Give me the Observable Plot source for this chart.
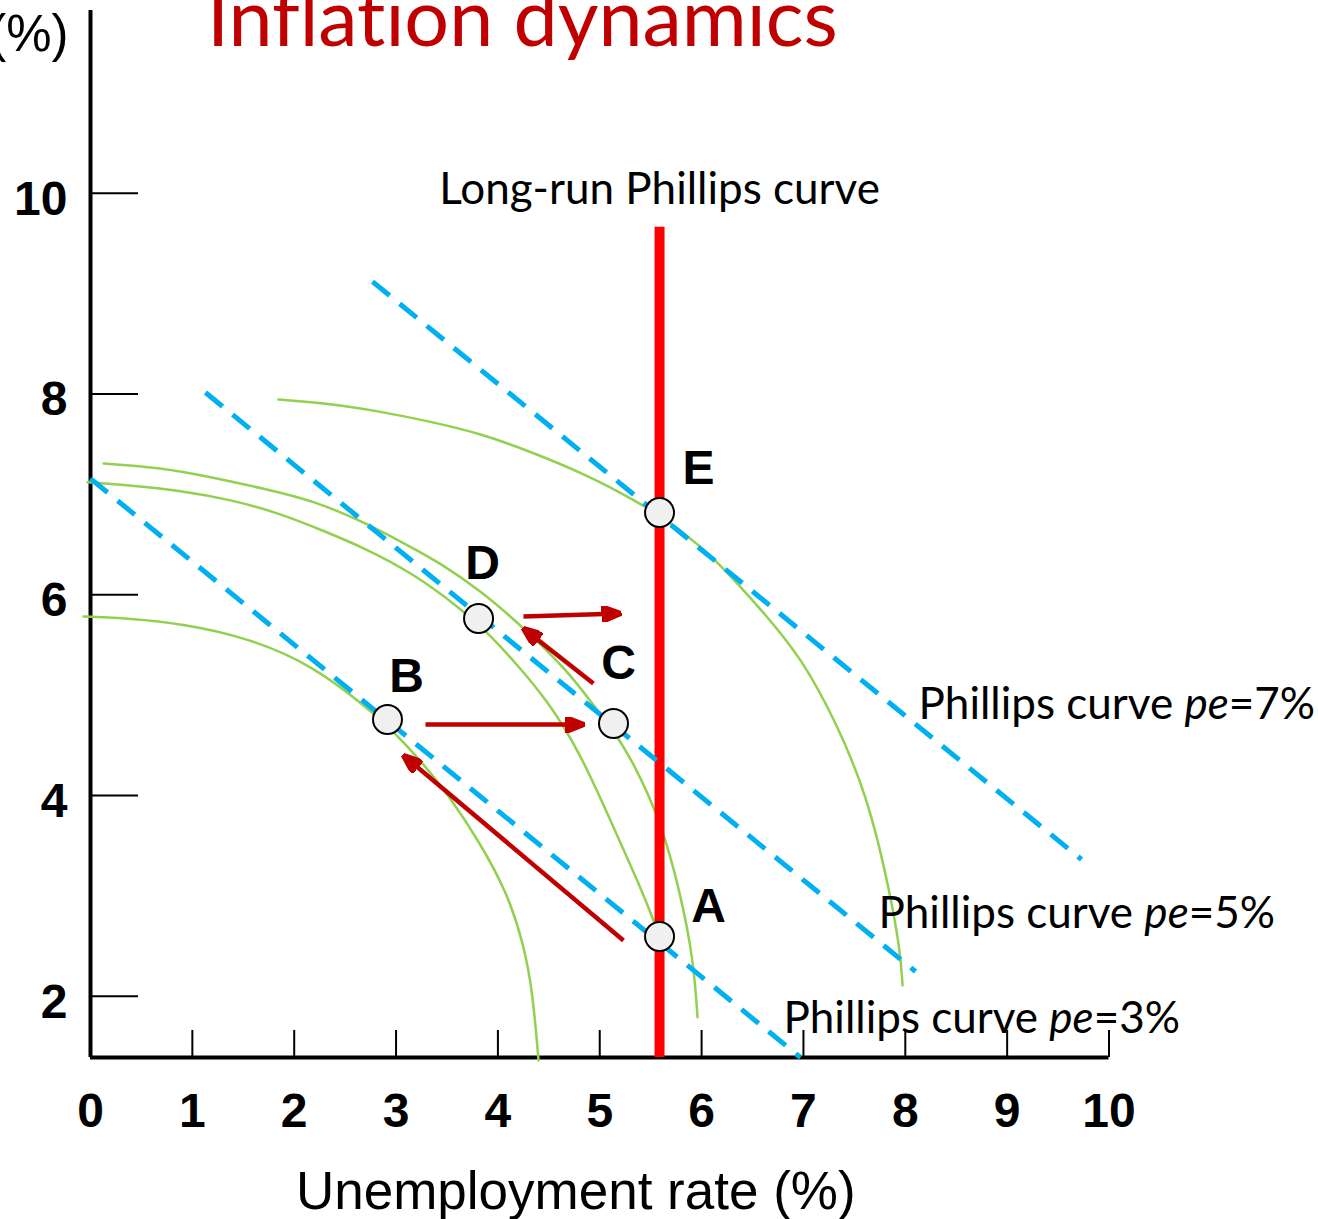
<!DOCTYPE html>
<html>
<head>
<meta charset="utf-8">
<script src="https://cdn.jsdelivr.net/npm/d3@7"></script>
<script src="https://cdn.jsdelivr.net/npm/@observablehq/plot@0.6"></script>
<style>
  html, body { margin: 0; padding: 0; background: #fff; }
  #chart svg { display: block; }
  #chart text { font-variant-ligatures: none; font-feature-settings: "liga" 0, "clig" 0; }
</style>
</head>
<body>
<div id="chart"></div>
<script>
// ---------- data ----------
const xTicks = [0, 1, 2, 3, 4, 5, 6, 7, 8, 9, 10];
const yTicks = [2, 4, 6, 8, 10];
const xDomain = [0, 10];
const yDomain = [1.39, 11.82];

// long-run Phillips curve (natural rate of unemployment)
const lrpcX = 5.587;
const lrpcTop = 9.66;

// short-run Phillips curves (dashed straight lines), one per expected inflation
const peNames = ["3%", "5%", "7%"];
const peX1 = [0.0, 1.129, 2.769];
const peY1 = [7.157, 8.014, 9.119];
const peX2 = [6.971, 8.10, 9.730];
const peY2 = [1.39, 2.247, 3.363];
const peLabelX = [6.804, 7.737, 8.130];
const peLabelY = [1.639, 2.685, 4.767];

// green curved paths
const curveB = [[-0.069, 5.783], [0.393, 5.763], [0.884, 5.713], [1.541, 5.574], [2.189, 5.295], [2.749, 4.847], [2.975, 4.638], [3.240, 4.349], [3.505, 4.020], [3.829, 3.522], [4.094, 3.024], [4.251, 2.526], [4.340, 2.058], [4.399, 1.361]];
const curveD = [[-0.029, 7.120], [0.393, 7.090], [0.884, 7.038], [1.375, 6.948], [1.866, 6.809], [2.288, 6.636], [2.680, 6.470], [3.171, 6.211], [3.633, 5.863], [3.898, 5.624], [4.153, 5.345], [4.487, 4.948], [4.811, 4.420], [5.135, 3.683], [5.400, 3.085], [5.528, 2.757], [5.587, 2.596]];
const curveC = [[0.128, 7.307], [0.687, 7.267], [1.208, 7.167], [1.699, 7.057], [2.189, 6.938], [2.720, 6.709], [3.171, 6.460], [3.407, 6.331], [3.829, 6.042], [4.251, 5.673], [4.683, 5.245], [4.939, 4.896], [5.135, 4.647], [5.331, 4.329], [5.597, 3.752], [5.793, 3.025], [5.921, 2.358], [5.960, 1.791]];
const curveE = [[1.846, 7.944], [2.356, 7.904], [2.847, 7.825], [3.338, 7.725], [3.829, 7.606], [4.320, 7.426], [4.840, 7.207], [5.204, 7.018], [5.587, 6.799], [5.990, 6.490], [6.313, 6.161], [6.676, 5.743], [6.971, 5.375], [7.295, 4.787], [7.629, 4.001], [7.855, 3.015], [7.953, 2.428], [7.973, 2.109]];

// labelled equilibrium points
const pointNames = ["A", "B", "C", "D", "E"];
const pointX = [5.587, 2.916, 5.135, 3.810, 5.587];
const pointY = [2.596, 4.757, 4.717, 5.763, 6.819];
const letterX = [6.068, 3.103, 5.184, 3.849, 5.970];
const letterY = [2.895, 5.185, 5.315, 6.311, 7.257];

// red movement arrows
const arrowX1 = [5.233, 3.289, 4.938, 4.251];
const arrowY1 = [2.556, 4.707, 5.116, 5.783];
const arrowX2 = [3.073, 4.841, 4.251, 5.204];
const arrowY2 = [4.399, 4.707, 5.664, 5.813];

const titleText = "Inflation dynamics";
const yLabelText = "(%)";
const xLabelText = "Unemployment rate (%)";
const lrpcText = "Long-run Phillips curve";
const titlePos = [4.24, 11.47];
const lrpcLabelY = 9.896;

// ---------- derived tables ----------
const phillips = peNames.map((pe, i) => ({pe, x1: peX1[i], y1: peY1[i], x2: peX2[i], y2: peY2[i], lx: peLabelX[i], ly: peLabelY[i], label: `Phillips curve pe=${pe}`}));
const curves = [["B", curveB], ["D", curveD], ["C", curveC], ["E", curveE]]
  .flatMap(([id, pts]) => pts.map(([x, y]) => ({id, x, y})));
const points = pointNames.map((name, i) => ({name, x: pointX[i], y: pointY[i], lx: letterX[i], ly: letterY[i]}));
const arrows = arrowX1.map((_, i) => ({x1: arrowX1[i], y1: arrowY1[i], x2: arrowX2[i], y2: arrowY2[i]}));

const SANS = "'Liberation Sans', Arial, sans-serif";
const CAL = "Lato, 'Open Sans', sans-serif";

function headMarker(color, context) {
  const doc = (context && context.document) || document;
  const ns = "http://www.w3.org/2000/svg";
  const m = doc.createElementNS(ns, "marker");
  m.setAttribute("viewBox", "-19 -8 20 16");
  m.setAttribute("markerWidth", 20);
  m.setAttribute("markerHeight", 16);
  m.setAttribute("markerUnits", "userSpaceOnUse");
  m.setAttribute("orient", "auto");
  const p = doc.createElementNS(ns, "path");
  p.setAttribute("d", "M1,0L-18,-7.5L-18,7.5Z");
  p.setAttribute("fill", color);
  m.appendChild(p);
  return m;
}

function build(marker) {
  return Plot.plot({
    width: 1318,
    height: 1219,
    marginLeft: 90,
    marginRight: 209.5,
    marginTop: 10,
    marginBottom: 162,
    x: {domain: xDomain},
    y: {domain: yDomain},
    style: {background: "white", overflow: "visible", color: "black"},
    marks: [
      // axes
      Plot.axisX(xTicks, {tickSize: -27, tickFormat: () => "", strokeWidth: 2, label: null}),
      Plot.axisX(xTicks, {tickSize: 0, tickPadding: 35, tickFormat: d => String(d), fontSize: 48, fontWeight: "bold", fontFamily: SANS, label: null}),
      Plot.axisY(yTicks, {tickSize: -48, tickFormat: () => "", strokeWidth: 2, label: null}),
      Plot.axisY(yTicks, {tickSize: 0, tickPadding: 23, dy: 6, tickFormat: d => String(d), fontSize: 48, fontWeight: "bold", fontFamily: SANS, label: null}),
      Plot.ruleX([xDomain[0]], {strokeWidth: 4}),
      Plot.ruleY([yDomain[0]], {strokeWidth: 4}),
      // curved paths
      Plot.line(curves, {x: "x", y: "y", z: "id", stroke: "#92D050", strokeWidth: 2.5, curve: "basis"}),
      // long-run Phillips curve
      Plot.ruleX([lrpcX], {y1: yDomain[0], y2: lrpcTop, stroke: "#FF0000", strokeWidth: 10}),
      // short-run Phillips curves
      Plot.link(phillips, {x1: "x1", y1: "y1", x2: "x2", y2: "y2", stroke: "#00B0F0", strokeWidth: 5, strokeDasharray: "22,13"}),
      // arrows
      Plot.link(arrows, {x1: "x1", y1: "y1", x2: "x2", y2: "y2", stroke: "#C00000", strokeWidth: 4.5, markerEnd: marker}),
      // points
      Plot.dot(points, {x: "x", y: "y", r: 14.5, fill: "#F0F0F0", stroke: "black", strokeWidth: 2}),
      Plot.text(points, {x: "lx", y: "ly", text: "name", fontSize: 48, fontWeight: "bold", fontFamily: SANS, fill: "black"}),
      // labels
      Plot.text(phillips, {x: "lx", y: "ly", text: "label", textAnchor: "start", lineAnchor: "bottom", fontSize: 44, fontFamily: CAL, fill: "black"}),
      Plot.text([lrpcText], {x: lrpcX, y: lrpcLabelY, text: d => d, textAnchor: "middle", lineAnchor: "bottom", fontSize: 44, fontFamily: CAL, fill: "black"}),
      Plot.text([titleText], {x: titlePos[0], y: titlePos[1], text: d => d, textAnchor: "middle", lineAnchor: "bottom", fontSize: 79, fontFamily: CAL, fill: "#C00000"}),
      Plot.text([yLabelText], {frameAnchor: "top-left", dx: -22, dy: 40, text: d => d, textAnchor: "end", lineAnchor: "bottom", fontSize: 51, fontFamily: SANS, fill: "black"}),
      Plot.text([xLabelText], {frameAnchor: "bottom", dx: -24, dy: 151, text: d => d, textAnchor: "middle", lineAnchor: "bottom", fontSize: 53, fontFamily: SANS, fill: "black"})
    ]
  });
}

let chart;
try {
  chart = build(headMarker);
} catch (e) {
  chart = build("arrow");
}

// italic "pe" inside the Phillips curve labels
d3.select(chart).selectAll("text").each(function () {
  const t = this.textContent;
  const m = /^(Phillips curve )(pe)(=.*)$/.exec(t);
  if (!m) return;
  const sel = d3.select(this);
  sel.text(null);
  sel.append("tspan").text(m[1]);
  sel.append("tspan").attr("font-style", "italic").text(m[2]);
  sel.append("tspan").text(m[3]);
});

document.getElementById("chart").appendChild(chart);
</script>
</body>
</html>
